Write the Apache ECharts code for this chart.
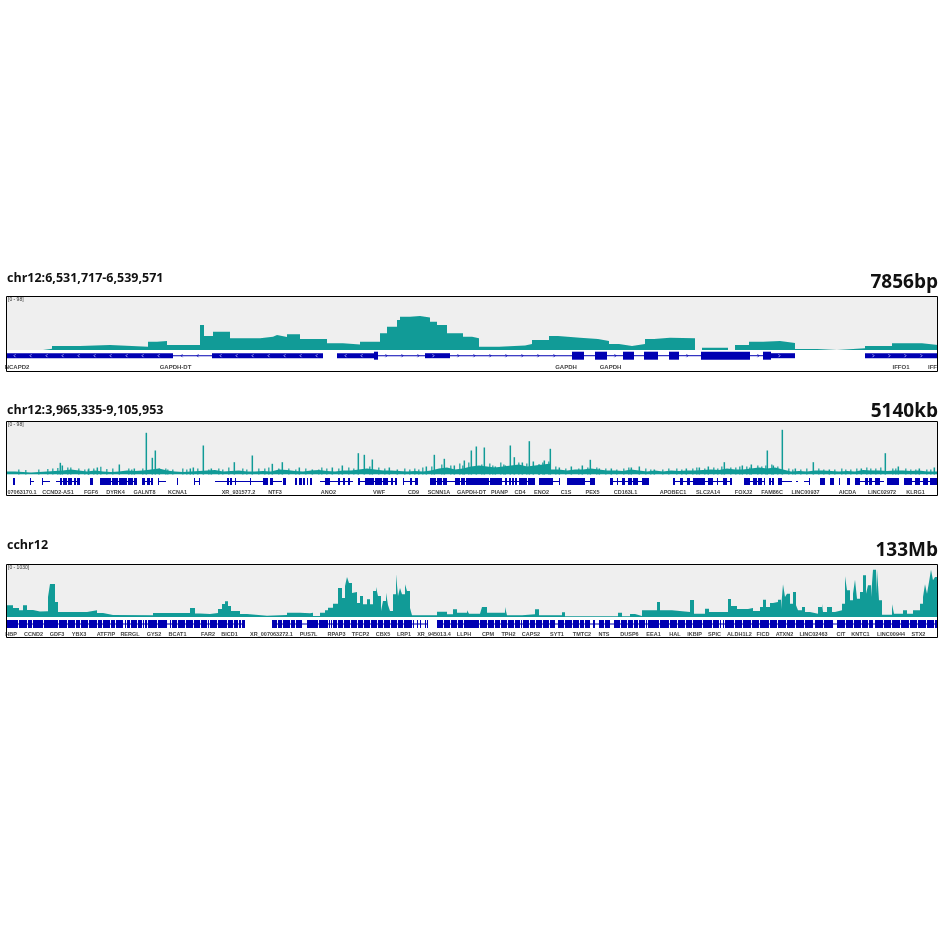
<!DOCTYPE html>
<html><head><meta charset="utf-8">
<script src="https://cdn.jsdelivr.net/npm/echarts@6/dist/echarts.min.js"></script>
<style>html,body{margin:0;padding:0;background:#fff;}#c{width:944px;height:945px;}</style>
</head><body><div id="c"></div>
<script>
// ---------------- DATA ----------------
const panelTitles = ['chr12:6,531,717-6,539,571', 'chr12:3,965,335-9,105,953', 'cchr12'];
const scaleLabels = ['7856bp', '5140kb', '133Mb'];
const rangeLabels = ['[0 - 98]', '[0 - 98]', '[0 - 1030]'];

// Panel 1 coverage: [track position, height] (step profile)
const p1Signal = [[7,0],[43,1.2],[52,4],[80,5],[110,3.3],[148,8.3],[157,9],[167,5],[200,25],[204,14],[213,18.3],[230,11.7],[260,13.3],[273,15],[277,13],[287,15.7],[300,11],[327,6.7],[343,5.5],[360,8.3],[380,16.7],[387,23.3],[397,30],[400,33.3],[410,34],[420,32.5],[430,28.3],[437,25],[447,16.7],[463,13.3],[472,11.7],[479,3.3],[499,4.5],[525,6],[532,10],[549,14],[558,12.3],[580,11],[598,9],[609,6],[619,4],[632,6],[645,11],[654,12.3],[670,11.7],[695,0],[702,2.3],[728,0],[735,5],[749,8.3],[763,9],[780,7],[795,1],[817,0],[837,1.7],[865,4],[892,6.7],[922,5],[938,5]];
const p1Utr = [[6,173],[212,323],[337,374],[425,450],[771,795],[865,938]];
const p1UtrStrand = ['-','-','-','+','+','+'];
const p1Cds = [[374,378],[572,584],[595,607],[623,634],[644,658],[669,679],[701,750],[763,771]];
const p1Introns = [[173,212],[378,425],[450,572],[584,595],[607,623],[634,644],[658,669],[679,701],[750,763]];
const p1IntronStrand = ['-','+','+','+','+','+','+','+','+'];
const p1GeneNames = ['NCAPD2','GAPDH-DT','GAPDH','GAPDH','IFFO1','IFF'];
const p1GenePos = [17,175.5,566,610.5,901,932.5];

// Panel 2 coverage: background bins (8 units wide from position 7), tall peaks and small peaks
const p2BinStart = 7, p2BinWidth = 8;
const p2Background = [3,2.5,2,2.5,3,3.5,4,5,4,3, 4,3,2.5,3,4,3.5,4,5,6,4, 3,2.5,3,3.5,4,4.5,3,3.5,4,3, 3,3.5,3,5,4.5,3.5,3,4,4.5,3.5, 3,4,4,5,6,5,4,4,3.5,3, 3.5,3,4,6,7,5,6,8,9,8, 7,8,9,10,8,9,10,11,5,4, 5,5,6,5,4,4,3.5,5,4,3, 4,3,4,3.5,4,4,4.5,5,4.5,6, 5,5,6,7,6,7,5,3,3.5,3, 4,4,3.5,3,3.5,3,4.5,4,4,3.5, 4,4,3.5,4,3,3,3];
const p2Peaks = [[61,11.7],[63,9],[89,5],[98,7],[120,10],[135,6],[147,41.7],[153,16.7],[156,24],[160,6],[191,6],[194,7],[204,29],[212,6],[235,12.3],[253,19],[273,10.7],[283,12.3],[300,7],[313,5],[333,7],[343,9],[359,21.3],[365,19.7],[373,15],[390,7],[398,5],[427,8],[435,19.7],[445,15.7],[455,9],[465,14],[472,24],[477,28],[485,27],[496,8],[506,9],[511,29],[515,17.3],[523,12],[530,33.3],[534,13],[540,10],[545,14],[551,25.7],[560,7],[572,8],[583,9],[591,14.7],[600,6],[612,6],[632,7],[640,8],[655,5],[687,6],[700,7],[709,8],[725,12.3],[743,9],[752,10],[768,24],[774,9],[783,44.7],[796,6],[814,12.3],[830,5],[862,6],[886,21.3],[899,8],[920,6],[935,7]];
const p2SmallPeaks = [[18,5],[25,4.5],[38,5],[47,5.5],[52,6],[57,6.5],[67,7],[70,7],[78,6],[84,5],[88,6],[93,6],[100,7.7],[106,5.5],[112,6],[128,6],[131,5],[142,6],[165,6],[167,5],[172,5],[182,6],[186,5],[197,6],[208,5],[218,6],[222,5],[228,7],[242,6],[246,5],[258,6],[264,6],[268,7],[278,6],[288,6],[295,5],[305,6],[318,5],[321,7],[326,6],[338,6],[348,7],[353,6],[369,8],[378,7],[384,6],[404,6],[409,5],[414,6],[418,5],[422,7],[431,8],[441,10],[450,9],[459,11],[462,9],[468,12],[481,10],[489,11],[492,9],[500,12],[503,10],[518,12],[526,11],[538,10],[542,12],[548,13],[555,8],[565,6],[578,6],[587,7],[596,7],[605,6],[616,5],[623,6],[628,7],[645,6],[650,5],[662,5],[668,6],[676,6],[681,5],[692,6],[696,7],[704,6],[713,7],[717,6],[721,8],[730,7],[735,7],[739,8],[746,8],[749,7],[757,9],[761,8],[765,9],[771,10],[777,8],[788,6],[792,5],[800,5],[806,6],[818,6],[823,5],[834,5],[841,6],[845,5],[850,5],[856,6],[866,7],[870,6],[875,6],[880,7],[892,6],[895,6],[905,6],[910,5],[915,5],[926,5],[930,5]];
const p2Exons = [[13,15],[30,31],[42,43],[60,62],[63,67],[68,72],[74,76],[77,80],[90,93],[100,111],[112,118],[119,127],[128,133],[134,137],[142,145],[147,150],[151,153],[158,159],[177,178],[194,195],[199,200],[227,229],[230,232],[235,236],[250,251],[263,268],[270,273],[283,286],[295,297],[299,302],[303,305],[307,308],[310,312],[325,330],[338,340],[343,345],[348,350],[358,360],[365,374],[375,382],[383,388],[391,393],[395,397],[403,404],[410,412],[415,418],[430,436],[437,442],[443,447],[455,460],[461,465],[466,472],[472,489],[490,502],[505,507],[509,511],[512,514],[515,517],[519,527],[528,535],[539,553],[559,560],[567,585],[590,595],[610,613],[617,618],[622,625],[628,632],[633,638],[642,649],[673,675],[680,683],[687,690],[693,705],[708,713],[717,718],[723,727],[730,732],[744,750],[753,757],[758,762],[764,765],[769,771],[772,774],[778,782],[809,810],[820,825],[830,834],[839,840],[847,850],[855,860],[865,868],[869,872],[875,880],[887,899],[904,912],[915,920],[923,928],[930,938]];
const p2Introns = [[31,34],[43,50],[56,60],[60,80],[100,137],[142,153],[159,166],[195,199],[215,267],[273,282],[320,353],[358,397],[403,418],[430,535],[539,553],[553,560],[567,595],[610,649],[673,732],[744,765],[769,774],[782,792],[796,798],[804,810],[855,884],[904,938]];
const p2GeneNames = ['07063170.1','CCND2-AS1','FGF6','DYRK4','GALNT8','KCNA1','XR_931577.2','NTF3','ANO2','VWF','CD9','SCNN1A','GAPDH-DT','PIANP','CD4','ENO2','C1S','PEX5','CD163L1','APOBEC1','SLC2A14','FOXJ2','FAM86C','LINC00937','AICDA','LINC02972','KLRG1'];
const p2GenePos = [22,58,91,115.5,144.5,177.5,238.5,275,328.5,379,413.5,439,471.5,499.5,520,541.5,566,592.5,625.5,673,708,743.5,772,805.5,847.5,882,915.5];

// Panel 3 coverage: [track position, height] (step profile)
const p3Signal = [[7,11.7],[13,9],[19,6.7],[23,11.7],[27,7],[33,5.5],[40,5.7],[48,20],[50,33],[55,15],[58,5],[70,5],[87,6.7],[97,4],[103,2],[113,1.7],[153,4],[190,9],[195,3.5],[200,3],[210,4],[218,8],[222,13],[225,15.7],[228,11],[231,6],[240,3],[247,1.2],[267,2],[287,4.3],[300,3.7],[310,4.3],[313,1],[320,4.3],[325,6.7],[328,9.3],[333,13.3],[338,29],[342,19],[345,31],[347,40],[349,34],[352,24],[354,25],[357,14],[360,21],[363,12.7],[367,17.7],[370,12.7],[373,26],[376,30],[378,21],[381,6],[383,16],[386,24.3],[388,12],[390,6],[393,22.7],[396,42.7],[398,21],[400,29],[402,22.7],[405,32.7],[407,26],[410,9],[412,1.7],[437,5.3],[447,2.7],[453,7.7],[457,4.3],[467,6.7],[469,3.3],[480,4.3],[482,10],[487,4.3],[505,10],[507,1.7],[522,2.7],[535,7.7],[539,1.7],[562,4.7],[565,0.7],[618,4.3],[622,0.7],[630,3],[635,1],[642,6.7],[657,15],[660,6.7],[672,5],[690,17],[694,3.3],[705,8.3],[709,5],[728,18],[731,11],[737,8],[748,9],[753,6],[760,10],[763,17.3],[766,10],[770,14],[773,15],[778,17.3],[781,8],[783,32.7],[785,20],[787,23.3],[790,13.3],[793,25],[796,11.7],[798,6.7],[802,10],[805,5],[810,3.3],[818,10],[822,13.3],[823,5],[827,10],[832,5],[835,6.7],[842,13.3],[845,40.7],[847,26.7],[850,16.7],[853,23.3],[855,37.3],[857,18.3],[860,25],[863,41.7],[866,23.3],[868,31.7],[871,20],[873,47.3],[876,23.3],[877,47.3],[879,16.7],[882,2.3],[892,12.7],[894,3.3],[903,6.7],[907,3.3],[913,6.7],[920,13.3],[923,20],[925,32.7],[927,23.3],[929,35],[931,47.3],[933,36.7],[935,40],[938,40]];
const p3Exons = [[7,18],[19,27],[28,32],[33,43],[44,58],[59,67],[68,75],[76,80],[81,88],[89,97],[98,102],[103,110],[111,115],[116,123],[125,126],[127,130],[131,137],[138,142],[143,144],[145,147],[148,157],[158,167],[170,171],[172,177],[178,185],[186,193],[194,200],[201,207],[208,209],[210,217],[218,227],[228,233],[234,238],[239,241],[242,245],[272,277],[278,282],[283,290],[291,295],[296,302],[307,318],[319,328],[329,330],[331,332],[333,337],[338,343],[344,350],[351,357],[358,363],[364,370],[371,377],[378,383],[384,390],[391,397],[398,403],[404,412],[413,414],[417,418],[420,421],[425,426],[427,428],[437,443],[444,450],[451,457],[458,463],[464,479],[480,487],[488,494],[495,500],[501,507],[508,514],[515,520],[521,522],[523,529],[530,535],[536,542],[543,549],[550,555],[558,564],[565,572],[573,579],[580,584],[585,590],[593,595],[599,604],[605,610],[614,620],[621,627],[628,633],[634,638],[639,645],[646,647],[648,659],[660,669],[670,677],[678,685],[686,692],[693,702],[703,712],[713,719],[720,721],[723,724],[725,734],[735,742],[743,751],[752,759],[760,769],[770,777],[778,786],[787,795],[796,804],[805,813],[815,823],[824,833],[837,845],[846,853],[854,861],[862,868],[869,873],[875,883],[884,891],[892,900],[901,909],[910,917],[918,926],[927,934],[935,938]];
const p3Introns = [[7,245],[272,428],[437,938]];
const p3GeneNames = ['HBP','CCND2','GDF3','YBX3','ATF7IP','RERGL','GYS2','BCAT1','FAR2','BICD1','XR_007063272.1','PUS7L','RPAP3','TFCP2','CBX5','LRP1','XR_945013.4','LLPH','CPM','TPH2','CAPS2','SYT1','TMTC2','NTS','DUSP6','EEA1','HAL','IKBIP','SPIC','ALDH1L2','FICD','ATXN2','LINC02463','CIT','KNTC1','LINC00944','STX2'];
const p3GenePos = [11,33.5,57,79,106,130,154,177.5,208,229.5,271.5,308.5,336.5,360.5,383,404,434,464,488,508.5,531,557,582,604,629.5,653.5,675,694.5,714.5,739.5,763,784.5,813.5,841,860.5,891,918.5];

// ---------------- STYLE / LAYOUT ----------------
const TEAL = '#119b97', GENE = '#0000b2', BG = '#efefef';
const X0 = 6, X1 = 938;
const STRAND_STEP = 16; // spacing of strand tick marks drawn on gene features (px)
const layout = [
  {box:[296,371], sig:[297,53], gene:[351,19], exonY:4.7, labelY:16.5, titleY:278, scaleY:283, rangeY:299.5, lblSize:6},
  {box:[421,495], sig:[422,52.5], gene:[475,19.5], exonY:6.5, labelY:17.3, titleY:410, scaleY:412, rangeY:425, lblSize:5.5},
  {box:[564,637], sig:[565,52], gene:[617,20], exonY:7, labelY:17, titleY:545.5, scaleY:550.5, rangeY:568, lblSize:5.5}
];

const grids = [], xAxes = [], yAxes = [], series = [], graphics = [];
layout.forEach((L, i) => {
  grids.push({left:X0, width:X1-X0, top:L.sig[0], height:L.sig[1], show:true, backgroundColor:BG, borderWidth:0});
  grids.push({left:X0, width:X1-X0, top:L.gene[0], height:L.gene[1], show:false});
  [0,1].forEach(k => {
    xAxes.push({type:'value', gridIndex:2*i+k, min:X0, max:X1, show:false});
  });
  yAxes.push({type:'value', gridIndex:2*i, min:0, max:L.sig[1], show:false});
  yAxes.push({type:'value', gridIndex:2*i+1, min:0, max:L.gene[1], inverse:true, show:false});
});

function areaSeries(idx, data) {
  return {type:'line', xAxisIndex:idx, yAxisIndex:idx, data:data, step:'end', symbol:'none',
    lineStyle:{width:0, color:TEAL}, areaStyle:{color:TEAL, opacity:1}, silent:true};
}
function barSeries(idx, data, w) {
  return {type:'bar', xAxisIndex:idx, yAxisIndex:idx, data:data, barWidth:w, itemStyle:{color:TEAL}, silent:true};
}
// gene blocks; optional strand chevrons (light inside blocks, blue across intron lines)
function blockSeries(idx, data, yOff, h, tickColor, strands) {
  return {type:'custom', xAxisIndex:idx, yAxisIndex:idx, data:data, silent:true,
    renderItem:(p, api) => {
      const s = api.coord([api.value(0), yOff]);
      const e = api.coord([api.value(1), yOff]);
      const w = Math.max(e[0]-s[0], 1);
      const kids = [{type:'rect', shape:{x:s[0], y:s[1]-h/2, width:w, height:h}, style:{fill:GENE}}];
      if (tickColor && strands) {
        const dir = strands[p.dataIndex] === '+' ? 1 : -1;
        for (let tx = s[0] + STRAND_STEP/2; tx < e[0] - 3; tx += STRAND_STEP) {
          const px = Math.round(tx) + 0.5;
          kids.push({type:'polyline', shape:{points:[[px-dir, s[1]-1.5],[px+0.5*dir, s[1]],[px-dir, s[1]+1.5]]},
            style:{stroke:tickColor, lineWidth:0.8, fill:null}});
        }
      }
      return {type:'group', children:kids};
    }};
}
function labelSeries(idx, pos, names, yOff, size) {
  return {type:'custom', xAxisIndex:idx, yAxisIndex:idx, data:pos.map(v => [v]), silent:true,
    renderItem:(p, api) => {
      const c = api.coord([api.value(0), yOff]);
      return {type:'text', x:c[0], y:c[1], style:{text:names[p.dataIndex], align:'center', verticalAlign:'middle',
        fontSize:size, fontWeight:'bold', fontFamily:'Liberation Sans, Arial, sans-serif', fill:'#444'}};
    }};
}

// Panel 1
series.push(areaSeries(0, p1Signal));
series.push(blockSeries(1, p1Introns, layout[0].exonY, 1, GENE, p1IntronStrand));
series.push(blockSeries(1, p1Utr, layout[0].exonY, 5, '#c8c8ff', p1UtrStrand));
series.push(blockSeries(1, p1Cds, layout[0].exonY, 8));
series.push(labelSeries(1, p1GenePos, p1GeneNames, layout[0].labelY, layout[0].lblSize));
// Panel 2
const p2Steps = p2Background.map((v, k) => [p2BinStart + k*p2BinWidth, v]);
p2Steps.push([p2BinStart + p2Background.length*p2BinWidth, p2Background[p2Background.length-1]]);
series.push(areaSeries(2, p2Steps));
series.push(barSeries(2, p2Peaks, 1.5));
series.push(barSeries(2, p2SmallPeaks, 1.2));
series.push(blockSeries(3, p2Introns, layout[1].exonY, 1));
series.push(blockSeries(3, p2Exons, layout[1].exonY, 7));
series.push(labelSeries(3, p2GenePos, p2GeneNames, layout[1].labelY, layout[1].lblSize));
// Panel 3
series.push(areaSeries(4, p3Signal));
series.push(blockSeries(5, p3Introns, layout[2].exonY, 1));
series.push(blockSeries(5, p3Exons, layout[2].exonY, 8));
series.push(labelSeries(5, p3GenePos, p3GeneNames, layout[2].labelY, layout[2].lblSize));

layout.forEach((L, i) => {
  graphics.push({type:'rect', shape:{x:X0+0.5, y:L.box[0]+0.5, width:X1-X0-1, height:L.box[1]-L.box[0]}, style:{fill:null, stroke:'#000', lineWidth:1}, z:100});
  graphics.push({type:'text', x:X0+1, y:L.titleY, style:{text:panelTitles[i], fontSize:12.5, fontWeight:'bold', fontFamily:'Open Sans', fill:'#111', verticalAlign:'middle'}, z:100});
  graphics.push({type:'text', x:X1, y:L.scaleY, style:{text:scaleLabels[i], fontSize:19, fontWeight:'bold', fontFamily:'Open Sans', fill:'#111', align:'right', verticalAlign:'middle'}, z:100});
  graphics.push({type:'text', x:X0+2, y:L.rangeY, style:{text:rangeLabels[i], fontSize:5, fontFamily:'Liberation Sans', fill:'#333', verticalAlign:'middle'}, z:100});
});

const chart = echarts.init(document.getElementById('c'), null, {renderer:'canvas'});
chart.setOption({animation:false, backgroundColor:'#fff', grid:grids, xAxis:xAxes, yAxis:yAxes, series:series, graphic:graphics});
</script></body></html>
